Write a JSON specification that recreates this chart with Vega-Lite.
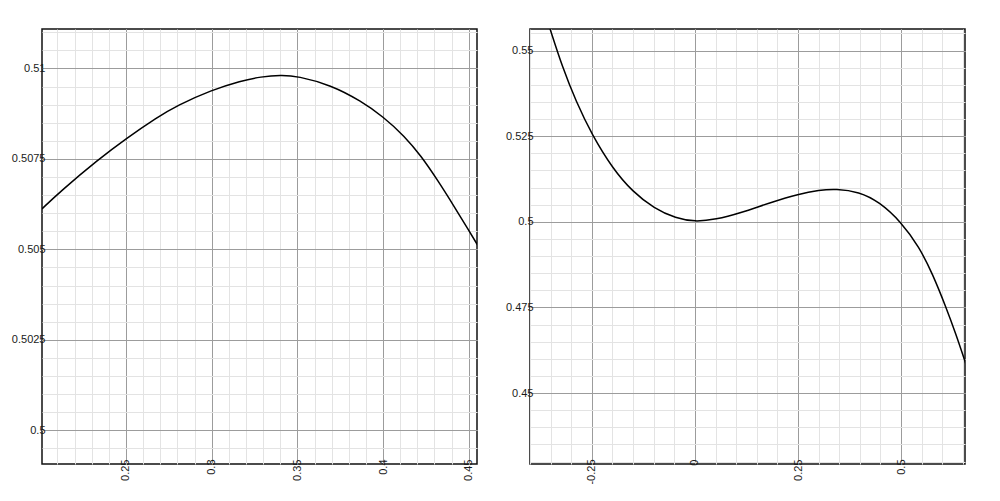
{
  "$schema": "https://vega.github.io/schema/vega-lite/v6.json",
  "padding": {"left": 10, "top": 28, "right": 5, "bottom": 5},
  "background": "white",
  "spacing": 26,
  "config": {
    "view": {"stroke": "#111", "strokeWidth": 1.5},
    "axis": {"labelFont": "Liberation Sans", "labelFontSize": 11, "labelColor": "#1a1a1a", "tickSize": 0, "ticks": false, "domain": false, "title": null, "gridWidth": 1}
  },
  "datasets": {
    "left": [
      {"x": 0.2010, "y": 0.50612},
      {"x": 0.2119, "y": 0.50661},
      {"x": 0.2337, "y": 0.50748},
      {"x": 0.2500, "y": 0.50806},
      {"x": 0.2682, "y": 0.50865},
      {"x": 0.2799, "y": 0.50898},
      {"x": 0.2998, "y": 0.50940},
      {"x": 0.3170, "y": 0.50966},
      {"x": 0.3287, "y": 0.50977},
      {"x": 0.3404, "y": 0.50982},
      {"x": 0.3500, "y": 0.50979},
      {"x": 0.3696, "y": 0.50954},
      {"x": 0.3871, "y": 0.50910},
      {"x": 0.4000, "y": 0.50867},
      {"x": 0.4125, "y": 0.50813},
      {"x": 0.4222, "y": 0.50758},
      {"x": 0.4320, "y": 0.50690},
      {"x": 0.4417, "y": 0.50617},
      {"x": 0.4495, "y": 0.50556},
      {"x": 0.4554, "y": 0.50510}
    ],
    "right": [
      {"x": -0.3515, "y": 0.5564},
      {"x": -0.3209, "y": 0.5450},
      {"x": -0.2885, "y": 0.5352},
      {"x": -0.2497, "y": 0.5254},
      {"x": -0.1997, "y": 0.5156},
      {"x": -0.1513, "y": 0.5088},
      {"x": -0.0987, "y": 0.5039},
      {"x": -0.0461, "y": 0.5010},
      {"x": 0.0, "y": 0.5000},
      {"x": 0.0509, "y": 0.5007},
      {"x": 0.1074, "y": 0.50246},
      {"x": 0.1881, "y": 0.50585},
      {"x": 0.2512, "y": 0.50811},
      {"x": 0.3013, "y": 0.50928},
      {"x": 0.3418, "y": 0.50966},
      {"x": 0.3983, "y": 0.50878},
      {"x": 0.4468, "y": 0.50585},
      {"x": 0.5000, "y": 0.5000},
      {"x": 0.5437, "y": 0.49268},
      {"x": 0.5760, "y": 0.4849},
      {"x": 0.6085, "y": 0.4752},
      {"x": 0.6327, "y": 0.46733},
      {"x": 0.6570, "y": 0.45855}
    ]
  },
  "hconcat": [
    {
      "width": 435,
      "height": 435,
      "data": {"name": "left"},
      "layer": [
        {
          "mark": {"type": "line", "opacity": 0, "clip": true},
          "encoding": {
            "x": {"field": "x", "type": "quantitative", "scale": {"domain": [0.201, 0.4548], "nice": false, "zero": false},
              "axis": {"orient": "bottom", "values": [0.21,0.22,0.23,0.24,0.25,0.26,0.27,0.28,0.29,0.3,0.31,0.32,0.33,0.34,0.35,0.36,0.37,0.38,0.39,0.4,0.41,0.42,0.43,0.44,0.45], "grid": true, "gridColor": "#e3e3e3", "labels": false}},
            "y": {"field": "y", "type": "quantitative", "scale": {"domain": [0.49907, 0.51109], "nice": false, "zero": false},
              "axis": {"orient": "left", "values": [0.4995,0.5,0.5005,0.501,0.5015,0.502,0.5025,0.503,0.5035,0.504,0.5045,0.505,0.5055,0.506,0.5065,0.507,0.5075,0.508,0.5085,0.509,0.5095,0.51,0.5105,0.511], "grid": true, "gridColor": "#e3e3e3", "labels": false}}
          }
        },
        {
          "mark": {"type": "line", "color": "#000", "strokeWidth": 1.5, "clip": true, "interpolate": "basis"},
          "encoding": {
            "x": {"field": "x", "type": "quantitative", "scale": {"domain": [0.201, 0.4548], "nice": false, "zero": false},
              "axis": {"orient": "bottom", "values": [0.25, 0.3, 0.35, 0.4, 0.45], "grid": true, "gridColor": "#9c9c9c", "labelAngle": 270, "labelPadding": -5, "labelExpr": "'' + datum.value"}},
            "y": {"field": "y", "type": "quantitative", "scale": {"domain": [0.49907, 0.51109], "nice": false, "zero": false},
              "axis": {"orient": "left", "values": [0.5, 0.5025, 0.505, 0.5075, 0.51], "grid": true, "gridColor": "#9c9c9c", "labelPadding": -3, "labelExpr": "'' + datum.value"}}
          }
        }
      ],
      "resolve": {"axis": {"x": "independent", "y": "independent"}}
    },
    {
      "width": 435,
      "height": 435,
      "data": {"name": "right"},
      "layer": [
        {
          "mark": {"type": "line", "opacity": 0, "clip": true},
          "encoding": {
            "x": {"field": "x", "type": "quantitative", "scale": {"domain": [-0.4, 0.655], "nice": false, "zero": false},
              "axis": {"orient": "bottom", "values": [-0.4,-0.35,-0.3,-0.25,-0.2,-0.15,-0.1,-0.05,0,0.05,0.1,0.15,0.2,0.25,0.3,0.35,0.4,0.45,0.5,0.55,0.6,0.65], "grid": true, "gridColor": "#e3e3e3", "labels": false}},
            "y": {"field": "y", "type": "quantitative", "scale": {"domain": [0.4293, 0.5563], "nice": false, "zero": false},
              "axis": {"orient": "left", "values": [0.43,0.435,0.44,0.445,0.45,0.455,0.46,0.465,0.47,0.475,0.48,0.485,0.49,0.495,0.5,0.505,0.51,0.515,0.52,0.525,0.53,0.535,0.54,0.545,0.55,0.555], "grid": true, "gridColor": "#e3e3e3", "labels": false}}
          }
        },
        {
          "mark": {"type": "line", "color": "#000", "strokeWidth": 1.5, "clip": true, "interpolate": "basis"},
          "encoding": {
            "x": {"field": "x", "type": "quantitative", "scale": {"domain": [-0.4, 0.655], "nice": false, "zero": false},
              "axis": {"orient": "bottom", "values": [-0.25, 0, 0.25, 0.5], "grid": true, "gridColor": "#9c9c9c", "labelAngle": 270, "labelPadding": -5, "labelExpr": "'' + datum.value"}},
            "y": {"field": "y", "type": "quantitative", "scale": {"domain": [0.4293, 0.5563], "nice": false, "zero": false},
              "axis": {"orient": "left", "values": [0.45, 0.475, 0.5, 0.525, 0.55], "grid": true, "gridColor": "#9c9c9c", "labelPadding": -3, "labelExpr": "'' + datum.value"}}
          }
        }
      ],
      "resolve": {"axis": {"x": "independent", "y": "independent"}}
    }
  ]
}
